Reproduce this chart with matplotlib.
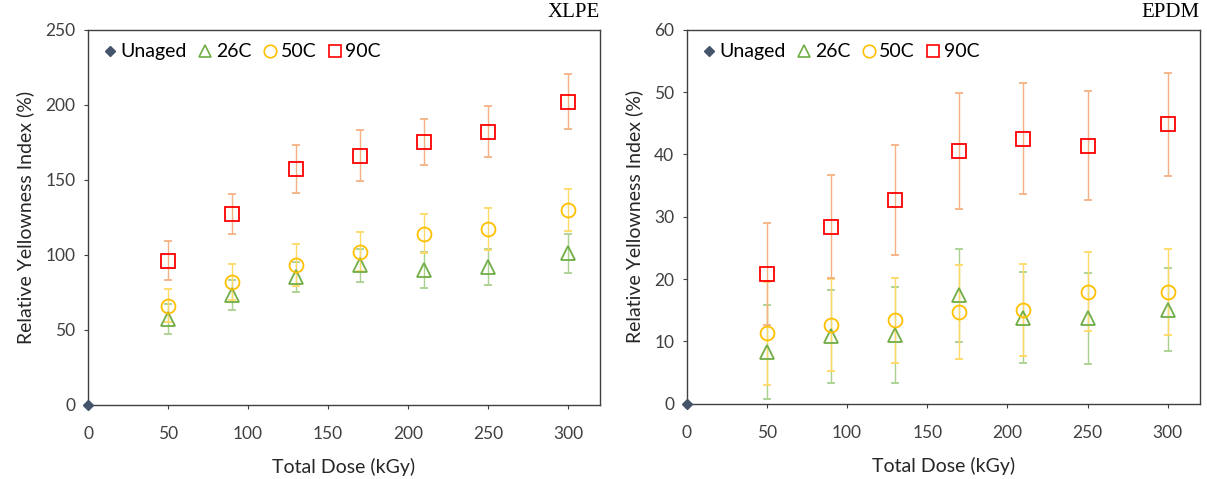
import matplotlib
matplotlib.use("Agg")
from matplotlib import pyplot as plt
from matplotlib.lines import Line2D

plt.rcParams['font.family'] = ['Lato', 'DejaVu Sans']

dose = [50, 90, 130, 170, 210, 250, 300]

# XLPE
xlpe_26 = [57, 73, 85, 93, 90, 92, 101]
xlpe_26_err = [10, 10, 10, 11, 12, 12, 13]
xlpe_50 = [66, 82, 93, 102, 114, 117, 130]
xlpe_50_err = [11, 12, 14, 13, 13, 14, 14]
xlpe_90 = [96, 127, 157, 166, 175, 182, 202]
xlpe_90_err = [13, 13.5, 16, 17, 15.5, 17, 18.5]

# EPDM
epdm_26 = [8.3, 10.8, 11.0, 17.4, 13.8, 13.7, 15.1]
epdm_26_err = [7.5, 7.4, 7.7, 7.5, 7.3, 7.3, 6.7]
epdm_50 = [11.3, 12.6, 13.4, 14.7, 15.1, 18.0, 18.0]
epdm_50_err = [8.3, 7.4, 6.8, 7.5, 7.4, 6.4, 6.9]
epdm_90 = [20.8, 28.4, 32.7, 40.6, 42.5, 41.4, 44.8]
epdm_90_err = [8.2, 8.3, 8.8, 9.3, 8.9, 8.7, 8.3]

unaged_x = [0]
unaged_y = [0]

fig = plt.figure(figsize=(12.07, 4.79), dpi=100)
ax1 = fig.add_axes([0.073, 0.155, 0.424, 0.783])
ax2 = fig.add_axes([0.569, 0.157, 0.425, 0.781])


def draw(ax, s26, e26, s50, e50, s90, e90, ymax, ystep, name):
    ax.plot(unaged_x, unaged_y, ls="none", marker="D", ms=5, color="#44546A",
            clip_on=False, zorder=5)
    ax.errorbar(dose, s26, yerr=e26, ls="none", marker="^", ms=10, mfc="none",
                mec="#70AD47", mew=1.3, ecolor="#A9D18E", elinewidth=1.0,
                capsize=3)
    ax.errorbar(dose, s50, yerr=e50, ls="none", marker="o", ms=10, mfc="none",
                mec="#FFC000", mew=1.3, ecolor="#FFD966", elinewidth=1.0,
                capsize=3)
    ax.errorbar(dose, s90, yerr=e90, ls="none", marker="s", ms=10, mfc="none",
                mec="#FF0000", mew=1.3, ecolor="#F4B183", elinewidth=1.0,
                capsize=3)
    ax.set_xlim(0, 320)
    ax.set_ylim(0, ymax)
    ax.set_xticks(range(0, 301, 50))
    ax.set_yticks(range(0, ymax + 1, ystep))
    ax.tick_params(labelsize=12.5, colors="#404040", length=3, pad=12)
    ax.tick_params(axis="y", pad=6)
    for sp in ax.spines.values():
        sp.set_color("#404040")
        sp.set_linewidth(1.0)
    ax.set_xlabel("Total Dose (kGy)", fontsize=14, color="#262626", labelpad=12)
    ax.set_ylabel("Relative Yellowness Index (%)", fontsize=14, color="#262626",
                  labelpad=8)
    handles = [
        Line2D([], [], ls="none", marker="D", ms=5, color="#44546A"),
        Line2D([], [], ls="none", marker="^", ms=9, mfc="none", mec="#70AD47", mew=1.2),
        Line2D([], [], ls="none", marker="o", ms=9, mfc="none", mec="#FFC000", mew=1.2),
        Line2D([], [], ls="none", marker="s", ms=9, mfc="none", mec="#FF0000", mew=1.2),
    ]
    labels = ["Unaged", "26C", "50C", "90C"]
    ax.legend(handles, labels, loc="upper left", ncol=4, frameon=False,
              fontsize=14, handlelength=0.7, handletextpad=0.2,
              columnspacing=0.6, bbox_to_anchor=(-0.005, 1.01))
    ax.text(1.0, 1.02, name, transform=ax.transAxes, ha="right", va="bottom",
            fontsize=15, family="Liberation Serif")


draw(ax1, xlpe_26, xlpe_26_err, xlpe_50, xlpe_50_err, xlpe_90, xlpe_90_err,
     250, 50, "XLPE")
draw(ax2, epdm_26, epdm_26_err, epdm_50, epdm_50_err, epdm_90, epdm_90_err,
     60, 10, "EPDM")

fig.savefig("out.png", dpi=100)
